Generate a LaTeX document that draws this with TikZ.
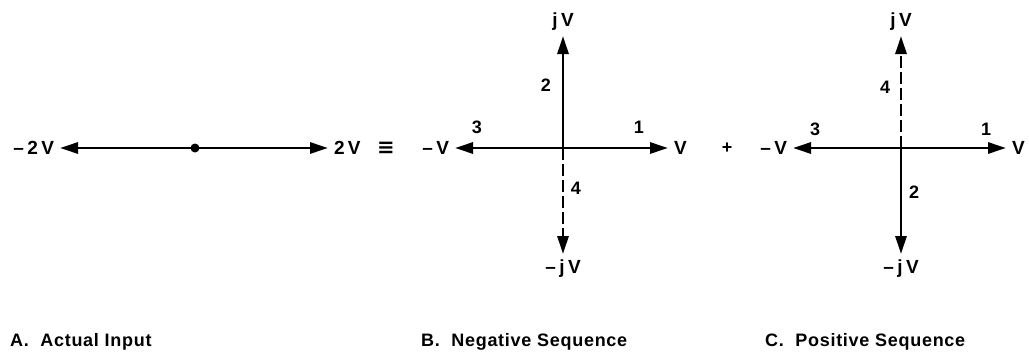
\documentclass[tikz,border=0pt]{standalone}
\usepackage{fontspec}
\setmainfont{Liberation Sans}
\newfontfamily\lblfont{Liberation Sans}[LetterSpace=18]
\newfontfamily\capfont{Liberation Sans}[LetterSpace=4]
\newfontfamily\symfont{DejaVu Sans}
\usetikzlibrary{arrows.meta}
\tikzset{
  lbl/.style={font=\fontsize{19}{21}\selectfont\lblfont\bfseries,inner sep=0pt,outer sep=0pt},
  num/.style={font=\fontsize{18}{20}\selectfont\bfseries,inner sep=0pt},
  captext/.style={font=\fontsize{18}{20}\selectfont\capfont\bfseries,inner sep=0pt,anchor=base west},
  vec/.style={line width=2.9pt,-{Triangle[length=18pt,width=11pt]},shorten >=6pt},
  solidvec/.style={solid},
  dashvec/.style={dash pattern=on 12pt off 4pt},
}

\begin{document}
\begin{tikzpicture}[x=1pt,y=-1pt]
  \useasboundingbox (0,0) rectangle (1029,354);
  % A: actual input
  \node[lbl,anchor=east] (aL) at (54,148) {–2V};
  \node[lbl,anchor=west] (aR) at (334,148) {2V};
  \node[font=\fontsize{21}{23}\selectfont\symfont\bfseries,inner sep=0pt] (eq) at (386,148) {≡};
  \coordinate (aO) at (195,148);
  \draw[vec] (aO) -- (aL);
  \draw[vec] (aO) -- (aR);
  \fill (aO) circle (4.5);
  % B and C: the two sequences
  \foreach \p/\cx/\up/\dn in {b/563/solidvec/dashvec,c/901/dashvec/solidvec}{
    \coordinate (\p O) at (\cx,148);
    \node[lbl,anchor=west] (\p E) at (\cx+111,148) {V};
    \node[lbl,anchor=east] (\p W) at (\cx-114,148) {–V};
    \node[lbl,anchor=south] (\p N) at (\cx,30) {jV};
    \node[lbl,anchor=north] (\p S) at (\cx,260) {–jV};
    \draw[vec] (\p O) -- (\p E);
    \draw[vec] (\p O) -- (\p W);
    \draw[vec,\up] (\p O) -- (\p N);
    \draw[vec,\dn] (\p O) -- (\p S);
  }
  \node[num] (plus) at (727,148) {+};
  \node[num] (b1) at (639,127) {1};
  \node[num] (b3) at (477,127) {3};
  \node[num] (b2) at (546,85) {2};
  \node[num] (b4) at (576,188) {4};
  \node[num] (c1) at (986,129) {1};
  \node[num] (c3) at (815,129) {3};
  \node[num] (c4) at (885,87) {4};
  \node[num] (c2) at (914,192) {2};
  % captions
  \node[captext] (capA) at (10,346) {A.\ \ Actual Input};
  \node[captext] (capB) at (421,346) {B.\ \ Negative Sequence};
  \node[captext] (capC) at (765,346) {C.\ \ Positive Sequence};
\end{tikzpicture}
\end{document}
